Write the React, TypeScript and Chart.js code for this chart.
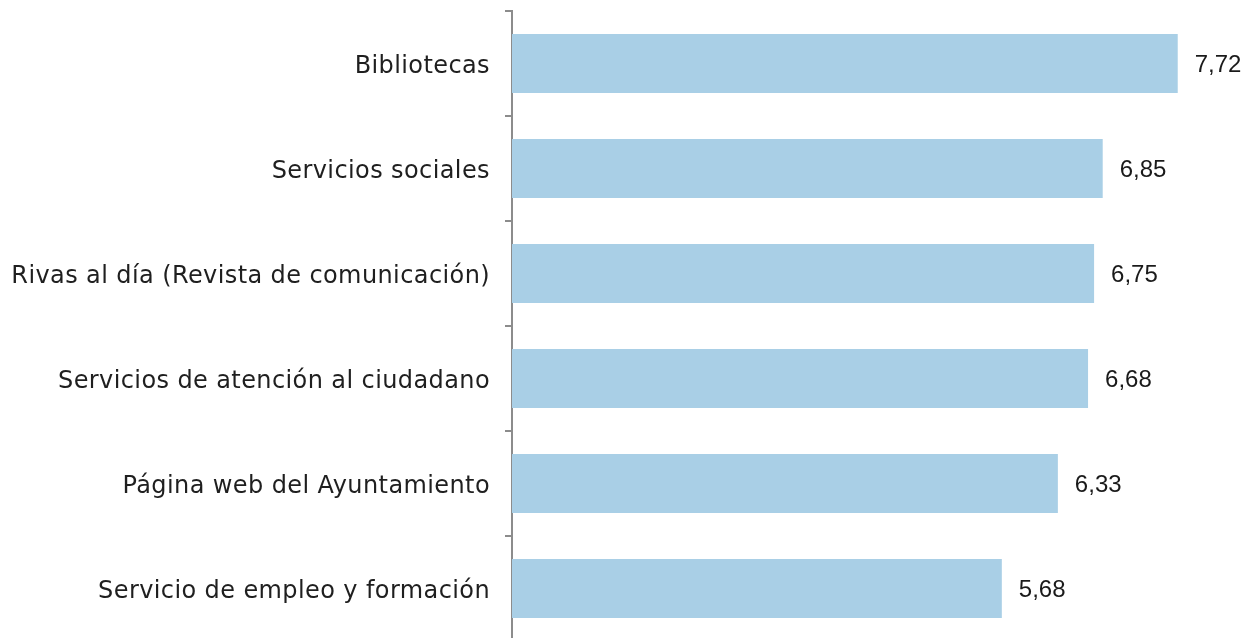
import React, { useEffect, useRef } from "react";
import { Chart, registerables } from "chart.js";

Chart.register(...registerables);

const categories = [
  "Bibliotecas",
  "Servicios sociales",
  "Rivas al día (Revista de comunicación)",
  "Servicios de atención al ciudadano",
  "Página web del Ayuntamiento",
  "Servicio de empleo y formación",
];
const values = [7.72, 6.85, 6.75, 6.68, 6.33, 5.68];

const LABEL_FONT = "'DejaVu Sans', sans-serif";
const VALUE_FONT = "'Liberation Sans', Arial, sans-serif";

const spacing = {
  id: "spacing",
  beforeDraw(chart: any) {
    chart.ctx.letterSpacing = "0.4px";
  },
};

const valueLabels = {
  id: "valueLabels",
  afterDatasetsDraw(chart: any) {
    const ctx = chart.ctx;
    const meta = chart.getDatasetMeta(0);
    ctx.save();
    ctx.letterSpacing = "0px";
    ctx.font = `24px ${VALUE_FONT}`;
    ctx.fillStyle = "#1a1a1a";
    ctx.textAlign = "left";
    ctx.textBaseline = "middle";
    meta.data.forEach((bar: any, i: number) => {
      const txt = values[i].toFixed(2).replace(".", ",");
      ctx.fillText(txt, bar.x + 17, bar.y + 2);
    });
    ctx.restore();
  },
};

export default function App() {
  const ref = useRef<HTMLCanvasElement>(null);
  useEffect(() => {
    if (!ref.current) return;
    const chart = new Chart(ref.current, {
      type: "bar",
      data: {
        labels: categories,
        datasets: [
          {
            data: values,
            backgroundColor: "#A9CFE6",
            borderWidth: 0,
            barPercentage: 0.56,
            categoryPercentage: 1,
          },
        ],
      },
      options: {
        indexAxis: "y",
        animation: false,
        responsive: false,
        maintainAspectRatio: false,
        devicePixelRatio: 1,
        layout: { padding: { top: 11, bottom: 4, right: 2, left: 0 } },
        plugins: { legend: { display: false }, tooltip: { enabled: false } },
        scales: {
          x: { display: false, min: 0, max: 8.5 },
          y: {
            afterFit(scale: any) {
              scale.width = 512;
              scale.paddingTop = 0;
              scale.paddingBottom = 0;
            },
            grid: {
              offset: true,
              drawOnChartArea: false,
              drawTicks: true,
              tickLength: 7,
              color: "#8C8C8C",
              lineWidth: 2,
            },
            border: { display: true, color: "#8C8C8C", width: 2 },
            ticks: {
              padding: 15,
              labelOffset: 3,
              color: "#1f1f1f",
              font: { family: LABEL_FONT, size: 24, weight: "normal" },
            },
          },
        },
      },
      plugins: [spacing, valueLabels],
    });
    return () => chart.destroy();
  }, []);
  return (
    <div style={{ position: "fixed", left: 0, top: 0, width: 1247, height: 645, background: "#fff" }}>
      <canvas ref={ref} width={1247} height={645} style={{ display: "block" }} />
    </div>
  );
}
